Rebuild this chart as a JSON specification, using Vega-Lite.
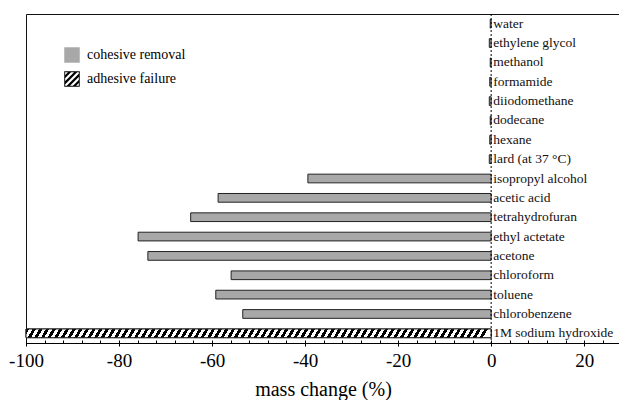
{
  "$schema": "https://vega.github.io/schema/vega-lite/v6.json",
  "autosize": "none",
  "width": 594,
  "height": 329,
  "padding": {"left": 26, "top": 14, "right": 0, "bottom": 57},
  "background": "white",
  "config": {
    "view": {"stroke": "#111", "strokeWidth": 1},
    "font": "Times New Roman, Liberation Serif, serif"
  },
  "data": {
    "values": [
      {"solvent": "water", "change": -0.2, "mode": "cohesive removal"},
      {"solvent": "ethylene glycol", "change": -0.4, "mode": "cohesive removal"},
      {"solvent": "methanol", "change": -0.2, "mode": "cohesive removal"},
      {"solvent": "formamide", "change": -0.3, "mode": "cohesive removal"},
      {"solvent": "diiodomethane", "change": -0.4, "mode": "cohesive removal"},
      {"solvent": "dodecane", "change": -0.2, "mode": "cohesive removal"},
      {"solvent": "hexane", "change": -0.3, "mode": "cohesive removal"},
      {"solvent": "lard (at 37 °C)", "change": -0.4, "mode": "cohesive removal"},
      {"solvent": "isopropyl alcohol", "change": -39.4, "mode": "cohesive removal"},
      {"solvent": "acetic acid", "change": -58.7, "mode": "cohesive removal"},
      {"solvent": "tetrahydrofuran", "change": -64.6, "mode": "cohesive removal"},
      {"solvent": "ethyl actetate", "change": -75.9, "mode": "cohesive removal"},
      {"solvent": "acetone", "change": -73.8, "mode": "cohesive removal"},
      {"solvent": "chloroform", "change": -55.9, "mode": "cohesive removal"},
      {"solvent": "toluene", "change": -59.2, "mode": "cohesive removal"},
      {"solvent": "chlorobenzene", "change": -53.4, "mode": "cohesive removal"},
      {"solvent": "1M sodium hydroxide", "change": -100, "mode": "adhesive failure"}
    ]
  },
  "layer": [
    {
      "mark": {"type": "bar", "fill": "#a8a8a8", "stroke": "#222", "strokeWidth": 1},
      "encoding": {
        "y": {
          "field": "solvent",
          "type": "nominal",
          "axis": null,
          "scale": {
            "domain": ["water", "ethylene glycol", "methanol", "formamide", "diiodomethane", "dodecane", "hexane", "lard (at 37 °C)", "isopropyl alcohol", "acetic acid", "tetrahydrofuran", "ethyl actetate", "acetone", "chloroform", "toluene", "chlorobenzene", "1M sodium hydroxide"],
            "paddingInner": 0.55,
            "paddingOuter": 0.275
          }
        },
        "x": {
          "field": "change",
          "type": "quantitative",
          "scale": {"domain": [-100, 27.7], "nice": false},
          "axis": {
            "orient": "bottom",
            "values": [-100, -80, -60, -40, -20, 0, 20],
            "grid": false,
            "tickSize": 3,
            "tickColor": "#000",
            "domainColor": "#000",
            "labelFont": "Times New Roman, Liberation Serif, serif",
            "labelFontSize": 19,
            "labelColor": "#000",
            "labelPadding": 5,
            "labelFlush": false,
            "labelOverlap": false,
            "labelExpr": "toString(datum.value)",
            "title": "mass change (%)",
            "titleFont": "Times New Roman, Liberation Serif, serif",
            "titleFontSize": 20,
            "titleFontWeight": "normal",
            "titleColor": "#000",
            "titlePadding": 9
          }
        }
      }
    },
    {
      "transform": [{"filter": "datum.mode === 'adhesive failure'"}],
      "mark": {
        "type": "bar",
        "stroke": "#222",
        "strokeWidth": 1,
        "fill": {
          "gradient": "linear", "x1": 0, "y1": 0, "x2": 1, "y2": 0.011,
          "stops": [
            {"offset":0,"color":"#000"},
            {"offset":0.0071,"color":"#000"},{"offset":0.0071,"color":"#fff"},{"offset":0.0143,"color":"#fff"},{"offset":0.0143,"color":"#000"},
            {"offset":0.0214,"color":"#000"},{"offset":0.0214,"color":"#fff"},{"offset":0.0286,"color":"#fff"},{"offset":0.0286,"color":"#000"},
            {"offset":0.0357,"color":"#000"},{"offset":0.0357,"color":"#fff"},{"offset":0.0429,"color":"#fff"},{"offset":0.0429,"color":"#000"},
            {"offset":0.05,"color":"#000"},{"offset":0.05,"color":"#fff"},{"offset":0.0571,"color":"#fff"},{"offset":0.0571,"color":"#000"},
            {"offset":0.0643,"color":"#000"},{"offset":0.0643,"color":"#fff"},{"offset":0.0714,"color":"#fff"},{"offset":0.0714,"color":"#000"},
            {"offset":0.0786,"color":"#000"},{"offset":0.0786,"color":"#fff"},{"offset":0.0857,"color":"#fff"},{"offset":0.0857,"color":"#000"},
            {"offset":0.0929,"color":"#000"},{"offset":0.0929,"color":"#fff"},{"offset":0.1,"color":"#fff"},{"offset":0.1,"color":"#000"},
            {"offset":0.1071,"color":"#000"},{"offset":0.1071,"color":"#fff"},{"offset":0.1143,"color":"#fff"},{"offset":0.1143,"color":"#000"},
            {"offset":0.1214,"color":"#000"},{"offset":0.1214,"color":"#fff"},{"offset":0.1286,"color":"#fff"},{"offset":0.1286,"color":"#000"},
            {"offset":0.1357,"color":"#000"},{"offset":0.1357,"color":"#fff"},{"offset":0.1429,"color":"#fff"},{"offset":0.1429,"color":"#000"},
            {"offset":0.15,"color":"#000"},{"offset":0.15,"color":"#fff"},{"offset":0.1571,"color":"#fff"},{"offset":0.1571,"color":"#000"},
            {"offset":0.1643,"color":"#000"},{"offset":0.1643,"color":"#fff"},{"offset":0.1714,"color":"#fff"},{"offset":0.1714,"color":"#000"},
            {"offset":0.1786,"color":"#000"},{"offset":0.1786,"color":"#fff"},{"offset":0.1857,"color":"#fff"},{"offset":0.1857,"color":"#000"},
            {"offset":0.1929,"color":"#000"},{"offset":0.1929,"color":"#fff"},{"offset":0.2,"color":"#fff"},{"offset":0.2,"color":"#000"},
            {"offset":0.2071,"color":"#000"},{"offset":0.2071,"color":"#fff"},{"offset":0.2143,"color":"#fff"},{"offset":0.2143,"color":"#000"},
            {"offset":0.2214,"color":"#000"},{"offset":0.2214,"color":"#fff"},{"offset":0.2286,"color":"#fff"},{"offset":0.2286,"color":"#000"},
            {"offset":0.2357,"color":"#000"},{"offset":0.2357,"color":"#fff"},{"offset":0.2429,"color":"#fff"},{"offset":0.2429,"color":"#000"},
            {"offset":0.25,"color":"#000"},{"offset":0.25,"color":"#fff"},{"offset":0.2571,"color":"#fff"},{"offset":0.2571,"color":"#000"},
            {"offset":0.2643,"color":"#000"},{"offset":0.2643,"color":"#fff"},{"offset":0.2714,"color":"#fff"},{"offset":0.2714,"color":"#000"},
            {"offset":0.2786,"color":"#000"},{"offset":0.2786,"color":"#fff"},{"offset":0.2857,"color":"#fff"},{"offset":0.2857,"color":"#000"},
            {"offset":0.2929,"color":"#000"},{"offset":0.2929,"color":"#fff"},{"offset":0.3,"color":"#fff"},{"offset":0.3,"color":"#000"},
            {"offset":0.3071,"color":"#000"},{"offset":0.3071,"color":"#fff"},{"offset":0.3143,"color":"#fff"},{"offset":0.3143,"color":"#000"},
            {"offset":0.3214,"color":"#000"},{"offset":0.3214,"color":"#fff"},{"offset":0.3286,"color":"#fff"},{"offset":0.3286,"color":"#000"},
            {"offset":0.3357,"color":"#000"},{"offset":0.3357,"color":"#fff"},{"offset":0.3429,"color":"#fff"},{"offset":0.3429,"color":"#000"},
            {"offset":0.35,"color":"#000"},{"offset":0.35,"color":"#fff"},{"offset":0.3571,"color":"#fff"},{"offset":0.3571,"color":"#000"},
            {"offset":0.3643,"color":"#000"},{"offset":0.3643,"color":"#fff"},{"offset":0.3714,"color":"#fff"},{"offset":0.3714,"color":"#000"},
            {"offset":0.3786,"color":"#000"},{"offset":0.3786,"color":"#fff"},{"offset":0.3857,"color":"#fff"},{"offset":0.3857,"color":"#000"},
            {"offset":0.3929,"color":"#000"},{"offset":0.3929,"color":"#fff"},{"offset":0.4,"color":"#fff"},{"offset":0.4,"color":"#000"},
            {"offset":0.4071,"color":"#000"},{"offset":0.4071,"color":"#fff"},{"offset":0.4143,"color":"#fff"},{"offset":0.4143,"color":"#000"},
            {"offset":0.4214,"color":"#000"},{"offset":0.4214,"color":"#fff"},{"offset":0.4286,"color":"#fff"},{"offset":0.4286,"color":"#000"},
            {"offset":0.4357,"color":"#000"},{"offset":0.4357,"color":"#fff"},{"offset":0.4429,"color":"#fff"},{"offset":0.4429,"color":"#000"},
            {"offset":0.45,"color":"#000"},{"offset":0.45,"color":"#fff"},{"offset":0.4571,"color":"#fff"},{"offset":0.4571,"color":"#000"},
            {"offset":0.4643,"color":"#000"},{"offset":0.4643,"color":"#fff"},{"offset":0.4714,"color":"#fff"},{"offset":0.4714,"color":"#000"},
            {"offset":0.4786,"color":"#000"},{"offset":0.4786,"color":"#fff"},{"offset":0.4857,"color":"#fff"},{"offset":0.4857,"color":"#000"},
            {"offset":0.4929,"color":"#000"},{"offset":0.4929,"color":"#fff"},{"offset":0.5,"color":"#fff"},{"offset":0.5,"color":"#000"},
            {"offset":0.5071,"color":"#000"},{"offset":0.5071,"color":"#fff"},{"offset":0.5143,"color":"#fff"},{"offset":0.5143,"color":"#000"},
            {"offset":0.5214,"color":"#000"},{"offset":0.5214,"color":"#fff"},{"offset":0.5286,"color":"#fff"},{"offset":0.5286,"color":"#000"},
            {"offset":0.5357,"color":"#000"},{"offset":0.5357,"color":"#fff"},{"offset":0.5429,"color":"#fff"},{"offset":0.5429,"color":"#000"},
            {"offset":0.55,"color":"#000"},{"offset":0.55,"color":"#fff"},{"offset":0.5571,"color":"#fff"},{"offset":0.5571,"color":"#000"},
            {"offset":0.5643,"color":"#000"},{"offset":0.5643,"color":"#fff"},{"offset":0.5714,"color":"#fff"},{"offset":0.5714,"color":"#000"},
            {"offset":0.5786,"color":"#000"},{"offset":0.5786,"color":"#fff"},{"offset":0.5857,"color":"#fff"},{"offset":0.5857,"color":"#000"},
            {"offset":0.5929,"color":"#000"},{"offset":0.5929,"color":"#fff"},{"offset":0.6,"color":"#fff"},{"offset":0.6,"color":"#000"},
            {"offset":0.6071,"color":"#000"},{"offset":0.6071,"color":"#fff"},{"offset":0.6143,"color":"#fff"},{"offset":0.6143,"color":"#000"},
            {"offset":0.6214,"color":"#000"},{"offset":0.6214,"color":"#fff"},{"offset":0.6286,"color":"#fff"},{"offset":0.6286,"color":"#000"},
            {"offset":0.6357,"color":"#000"},{"offset":0.6357,"color":"#fff"},{"offset":0.6429,"color":"#fff"},{"offset":0.6429,"color":"#000"},
            {"offset":0.65,"color":"#000"},{"offset":0.65,"color":"#fff"},{"offset":0.6571,"color":"#fff"},{"offset":0.6571,"color":"#000"},
            {"offset":0.6643,"color":"#000"},{"offset":0.6643,"color":"#fff"},{"offset":0.6714,"color":"#fff"},{"offset":0.6714,"color":"#000"},
            {"offset":0.6786,"color":"#000"},{"offset":0.6786,"color":"#fff"},{"offset":0.6857,"color":"#fff"},{"offset":0.6857,"color":"#000"},
            {"offset":0.6929,"color":"#000"},{"offset":0.6929,"color":"#fff"},{"offset":0.7,"color":"#fff"},{"offset":0.7,"color":"#000"},
            {"offset":0.7071,"color":"#000"},{"offset":0.7071,"color":"#fff"},{"offset":0.7143,"color":"#fff"},{"offset":0.7143,"color":"#000"},
            {"offset":0.7214,"color":"#000"},{"offset":0.7214,"color":"#fff"},{"offset":0.7286,"color":"#fff"},{"offset":0.7286,"color":"#000"},
            {"offset":0.7357,"color":"#000"},{"offset":0.7357,"color":"#fff"},{"offset":0.7429,"color":"#fff"},{"offset":0.7429,"color":"#000"},
            {"offset":0.75,"color":"#000"},{"offset":0.75,"color":"#fff"},{"offset":0.7571,"color":"#fff"},{"offset":0.7571,"color":"#000"},
            {"offset":0.7643,"color":"#000"},{"offset":0.7643,"color":"#fff"},{"offset":0.7714,"color":"#fff"},{"offset":0.7714,"color":"#000"},
            {"offset":0.7786,"color":"#000"},{"offset":0.7786,"color":"#fff"},{"offset":0.7857,"color":"#fff"},{"offset":0.7857,"color":"#000"},
            {"offset":0.7929,"color":"#000"},{"offset":0.7929,"color":"#fff"},{"offset":0.8,"color":"#fff"},{"offset":0.8,"color":"#000"},
            {"offset":0.8071,"color":"#000"},{"offset":0.8071,"color":"#fff"},{"offset":0.8143,"color":"#fff"},{"offset":0.8143,"color":"#000"},
            {"offset":0.8214,"color":"#000"},{"offset":0.8214,"color":"#fff"},{"offset":0.8286,"color":"#fff"},{"offset":0.8286,"color":"#000"},
            {"offset":0.8357,"color":"#000"},{"offset":0.8357,"color":"#fff"},{"offset":0.8429,"color":"#fff"},{"offset":0.8429,"color":"#000"},
            {"offset":0.85,"color":"#000"},{"offset":0.85,"color":"#fff"},{"offset":0.8571,"color":"#fff"},{"offset":0.8571,"color":"#000"},
            {"offset":0.8643,"color":"#000"},{"offset":0.8643,"color":"#fff"},{"offset":0.8714,"color":"#fff"},{"offset":0.8714,"color":"#000"},
            {"offset":0.8786,"color":"#000"},{"offset":0.8786,"color":"#fff"},{"offset":0.8857,"color":"#fff"},{"offset":0.8857,"color":"#000"},
            {"offset":0.8929,"color":"#000"},{"offset":0.8929,"color":"#fff"},{"offset":0.9,"color":"#fff"},{"offset":0.9,"color":"#000"},
            {"offset":0.9071,"color":"#000"},{"offset":0.9071,"color":"#fff"},{"offset":0.9143,"color":"#fff"},{"offset":0.9143,"color":"#000"},
            {"offset":0.9214,"color":"#000"},{"offset":0.9214,"color":"#fff"},{"offset":0.9286,"color":"#fff"},{"offset":0.9286,"color":"#000"},
            {"offset":0.9357,"color":"#000"},{"offset":0.9357,"color":"#fff"},{"offset":0.9429,"color":"#fff"},{"offset":0.9429,"color":"#000"},
            {"offset":0.95,"color":"#000"},{"offset":0.95,"color":"#fff"},{"offset":0.9571,"color":"#fff"},{"offset":0.9571,"color":"#000"},
            {"offset":0.9643,"color":"#000"},{"offset":0.9643,"color":"#fff"},{"offset":0.9714,"color":"#fff"},{"offset":0.9714,"color":"#000"},
            {"offset":0.9786,"color":"#000"},{"offset":0.9786,"color":"#fff"},{"offset":0.9857,"color":"#fff"},{"offset":0.9857,"color":"#000"},
            {"offset":0.9929,"color":"#000"},{"offset":0.9929,"color":"#fff"},{"offset":1,"color":"#fff"}
          ]
        }
      },
      "encoding": {
        "y": {"field": "solvent", "type": "nominal", "axis": null},
        "x": {"field": "change", "type": "quantitative", "axis": null}
      }
    },
    {
      "mark": {"type": "point", "filled": true, "opacity": 0},
      "encoding": {
        "y": {"field": "solvent", "type": "nominal", "axis": null},
        "x": {"field": "change", "type": "quantitative", "axis": null},
        "fill": {
          "field": "mode",
          "type": "nominal",
          "scale": {"domain": ["cohesive removal", "adhesive failure"], "range": ["#a8a8a8", "#000000"]},
          "legend": {
            "orient": "none",
            "legendX": 38,
            "legendY": 33,
            "title": null,
            "padding": 0,
            "symbolSize": 240,
            "symbolOpacity": 1,
            "symbolStrokeWidth": 0,
            "labelFont": "Times New Roman, Liberation Serif, serif",
            "labelFontSize": 14,
            "labelColor": "#000",
            "labelOffset": 7,
            "rowPadding": 8
          }
        },
        "shape": {
          "field": "mode",
          "type": "nominal",
          "scale": {
            "domain": ["cohesive removal", "adhesive failure"],
            "range": [
              "square",
              "M-1,-1H1V1H-1ZM-0.88,-0.88V0.88H0.88V-0.88ZM-1,-0.4L-0.4,-1L0,-1L-1,0ZM-1,0.4L0.4,-1L0.8,-1L-1,0.8ZM-0.8,1L1,-0.8L1,-0.4L-0.4,1ZM0,1L1,0L1,0.4L0.4,1Z"
            ]
          },
          "legend": {
            "orient": "none",
            "legendX": 38,
            "legendY": 33,
            "title": null,
            "padding": 0,
            "symbolSize": 240,
            "symbolOpacity": 1,
            "symbolStrokeWidth": 0,
            "labelFont": "Times New Roman, Liberation Serif, serif",
            "labelFontSize": 14,
            "labelColor": "#000",
            "labelOffset": 7,
            "rowPadding": 8
          }
        }
      }
    },
    {
      "data": {"values": [{"ref": 0}]},
      "mark": {"type": "rule", "color": "#000", "strokeWidth": 1, "strokeDash": [2, 2]},
      "encoding": {
        "x": {
          "field": "ref",
          "type": "quantitative",
          "axis": {
            "orient": "bottom",
            "values": [-100, -96, -92, -88, -84, -80, -76, -72, -68, -64, -60, -56, -52, -48, -44, -40, -36, -32, -28, -24, -20, -16, -12, -8, -4, 0, 4, 8, 12, 16, 20, 24],
            "grid": false,
            "domain": false,
            "labels": false,
            "title": null,
            "tickSize": -3,
            "tickColor": "#000"
          }
        }
      }
    },
    {
      "mark": {"type": "text", "align": "left", "baseline": "middle", "dx": 2, "font": "Times New Roman, Liberation Serif, serif", "fontSize": 13.5, "color": "#111"},
      "encoding": {
        "y": {"field": "solvent", "type": "nominal", "axis": null},
        "x": {"datum": 0, "axis": null},
        "text": {"field": "solvent"}
      }
    }
  ],
  "resolve": {"axis": {"x": "independent"}}
}
